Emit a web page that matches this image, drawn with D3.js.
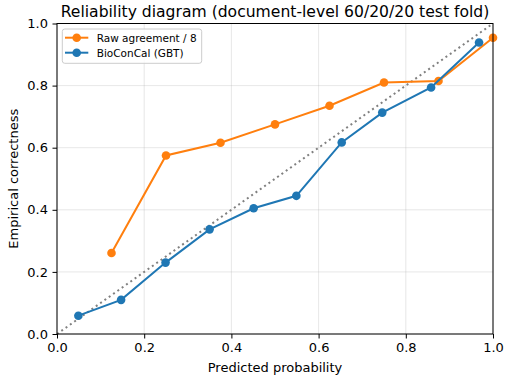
<!DOCTYPE html>
<html>
<head>
<meta charset="utf-8">
<script src="https://cdn.jsdelivr.net/npm/d3@7"></script>
<style>
  body { margin: 0; background: #fff; }
  svg { display: block; font-family: "DejaVu Sans", sans-serif; }
</style>
</head>
<body>
<div id="wrapper"></div>
<script>
// raw agreement (votes / 8)
const rawX = [0.125, 0.25, 0.375, 0.5, 0.625, 0.75, 0.875, 1.0];
const rawY = [0.261, 0.575, 0.616, 0.675, 0.735, 0.810, 0.815, 0.954];
// BioConCal (GBT) calibrated
const calX = [0.049, 0.147, 0.249, 0.35, 0.451, 0.549, 0.653, 0.746, 0.858, 0.968];
const calY = [0.059, 0.110, 0.230, 0.337, 0.405, 0.445, 0.617, 0.713, 0.794, 0.939];
const ticks = [0, 0.2, 0.4, 0.6, 0.8, 1.0];
const seriesNames = ["Raw agreement / 8", "BioConCal (GBT)"];
const seriesColors = ["#ff7f0e", "#1f77b4"];

function drawReliability() {
  const dimensions = {
    width: 505,
    height: 378,
    margin: { top: 23.5, right: 12, bottom: 44, left: 57 },
  };
  dimensions.boundleWidth = dimensions.width - dimensions.margin.left - dimensions.margin.right;
  dimensions.boundleHeight = dimensions.height - dimensions.margin.top - dimensions.margin.bottom;

  const svg = d3.select("#wrapper").append("svg")
    .attr("width", dimensions.width)
    .attr("height", dimensions.height);

  const bounds = svg.append("g")
    .attr("transform", `translate(${dimensions.margin.left},${dimensions.margin.top})`);

  const xScale = d3.scaleLinear().domain([0, 1]).range([0, dimensions.boundleWidth]);
  const yScale = d3.scaleLinear().domain([0, 1]).range([dimensions.boundleHeight, 0]);

  // grid
  bounds.append("g").selectAll("line.gx").data(ticks).join("line")
    .attr("x1", d => xScale(d)).attr("x2", d => xScale(d))
    .attr("y1", 0).attr("y2", dimensions.boundleHeight)
    .attr("stroke", "#b0b0b0").attr("stroke-opacity", 0.3).attr("stroke-width", 1);
  bounds.append("g").selectAll("line.gy").data(ticks).join("line")
    .attr("y1", d => yScale(d)).attr("y2", d => yScale(d))
    .attr("x1", 0).attr("x2", dimensions.boundleWidth)
    .attr("stroke", "#b0b0b0").attr("stroke-opacity", 0.3).attr("stroke-width", 1);

  // perfect calibration diagonal
  bounds.append("line")
    .attr("x1", xScale(0)).attr("y1", yScale(0))
    .attr("x2", xScale(1)).attr("y2", yScale(1))
    .attr("stroke", "#808080").attr("stroke-width", 2)
    .attr("stroke-dasharray", "2,3.3");

  const lineGenerator = d3.line()
    .x(d => xScale(d[0]))
    .y(d => yScale(d[1]));

  const series = [d3.zip(rawX, rawY), d3.zip(calX, calY)];
  series.forEach((pts, i) => {
    bounds.append("path")
      .attr("d", lineGenerator(pts))
      .attr("fill", "none")
      .attr("stroke", seriesColors[i])
      .attr("stroke-width", 2);
    bounds.append("g").selectAll("circle").data(pts).join("circle")
      .attr("cx", d => xScale(d[0]))
      .attr("cy", d => yScale(d[1]))
      .attr("r", 4.3)
      .attr("fill", seriesColors[i]);
  });

  // axes
  const xAxis = bounds.append("g")
    .attr("transform", `translate(0,${dimensions.boundleHeight})`)
    .call(d3.axisBottom(xScale).tickValues(ticks).tickFormat(d3.format(".1f")).tickSizeInner(4.5).tickSizeOuter(0).tickPadding(4.5));
  const yAxis = bounds.append("g")
    .call(d3.axisLeft(yScale).tickValues(ticks).tickFormat(d3.format(".1f")).tickSizeInner(4.5).tickSizeOuter(0).tickPadding(4.5));
  [xAxis, yAxis].forEach(ax => {
    ax.select(".domain").remove();
    ax.selectAll("text").attr("font-size", 13).attr("fill", "#000").attr("font-family", "DejaVu Sans");
    ax.selectAll("line").attr("stroke", "#000").attr("stroke-width", 1);
  });

  // frame
  bounds.append("rect")
    .attr("width", dimensions.boundleWidth)
    .attr("height", dimensions.boundleHeight)
    .attr("fill", "none").attr("stroke", "#000").attr("stroke-width", 1);

  // labels
  svg.append("text")
    .attr("x", dimensions.margin.left + dimensions.boundleWidth / 2)
    .attr("y", 17)
    .attr("text-anchor", "middle")
    .attr("font-size", 15.6)
    .text("Reliability diagram (document-level 60/20/20 test fold)");
  svg.append("text")
    .attr("x", dimensions.margin.left + dimensions.boundleWidth / 2)
    .attr("y", 372)
    .attr("text-anchor", "middle")
    .attr("font-size", 13)
    .text("Predicted probability");
  svg.append("text")
    .attr("transform", `translate(18,${dimensions.margin.top + dimensions.boundleHeight / 2}) rotate(-90)`)
    .attr("text-anchor", "middle")
    .attr("font-size", 13)
    .text("Empirical correctness");

  // legend
  const legend = bounds.append("g").attr("transform", "translate(5.3,5.5)");
  legend.append("rect")
    .attr("width", 139.4).attr("height", 34.3)
    .attr("rx", 2.5)
    .attr("fill", "#fff").attr("fill-opacity", 0.8)
    .attr("stroke", "#cccccc").attr("stroke-width", 1);
  seriesNames.forEach((name, i) => {
    const row = legend.append("g").attr("transform", `translate(0,${8.7 + i * 15})`);
    row.append("line")
      .attr("x1", 2.7).attr("x2", 26)
      .attr("stroke", seriesColors[i]).attr("stroke-width", 2);
    row.append("circle").attr("cx", 14.4).attr("r", 4.3).attr("fill", seriesColors[i]);
    row.append("text")
      .attr("x", 34.4).attr("y", 3.8)
      .attr("font-size", 10.5)
      .text(name);
  });
}

drawReliability();
</script>
</body>
</html>
